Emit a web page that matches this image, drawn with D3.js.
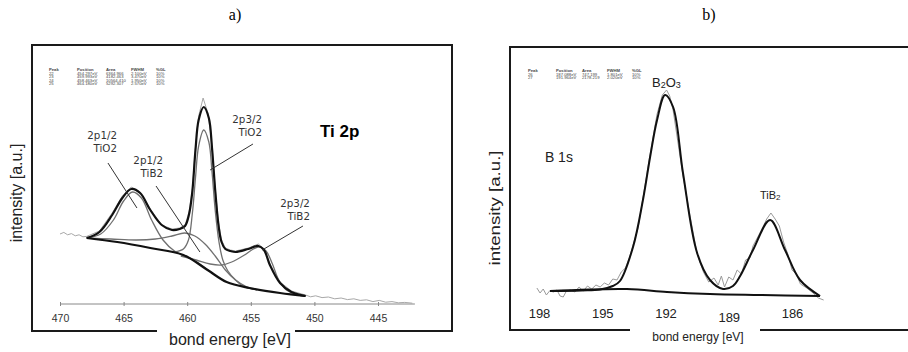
<!DOCTYPE html>
<html>
  <head>
    <meta charset="utf-8">
    <title>XPS Ti 2p / B 1s</title>
    <script src="https://cdn.jsdelivr.net/npm/d3@7"></script>
    <style>
      body { margin: 0; background: #fff; }
      svg { display: block; }
    </style>
  </head>
  <body>
    <svg id="canvas" width="908" height="352"></svg>
    <script>
      // ---- panel a: Ti 2p, [bond energy eV, intensity a.u.] ----
      tiRaw = [[470.0, 35], [469.7, 35.8], [469.4, 34.6], [469.1, 35.2], [468.8, 34.1], [468.5, 34.6], [468.2, 33.6], [467.9, 33.8],
        [466.9, 36.5], [465.9, 45.5], [465.1, 54], [464.4, 58.5], [463.7, 56], [462.9, 47.5], [462.0, 39.5], [461.2, 37.5],
        [460.6, 38], [460.17, 39.5], [459.85, 46], [459.6, 57], [459.35, 78], [459.1, 94], [458.75, 103], [458.35, 95],
        [458.05, 79], [457.8, 58], [457.55, 41], [457.3, 32], [457.0, 28], [456.6, 27], [456.2, 26.5], [455.2, 28],
        [454.4, 30], [453.96, 27.5], [453.5, 20], [452.7, 11], [451.8, 6.5], [450.7, 4.5], [450.3, 3.6], [449.9, 4.1],
        [449.4, 3.2], [448.9, 3.5], [448.4, 2.6], [447.9, 3.0], [447.4, 2.2], [446.9, 2.6], [446.4, 1.8], [445.9, 2.1],
        [445.4, 1.2], [444.9, 1.8], [444.4, 0.9], [443.9, 1.2], [443.4, 0.6], [442.9, 0.8], [442.3, 0.4]];
      tiEnvelope = [[467.9, 33], [466.9, 36], [465.9, 44.5], [465.1, 53], [464.4, 57.5], [463.7, 55.5], [462.9, 47],
        [462.0, 39.5], [461.2, 37], [460.6, 37.5], [460.17, 39], [459.85, 45], [459.6, 56], [459.35, 77], [459.1, 92],
        [458.7, 98.5], [458.3, 93], [458.05, 78], [457.8, 57], [457.55, 40], [457.3, 31], [457.0, 27.5], [456.6, 26.5],
        [456.2, 26], [455.2, 27.5], [454.4, 29], [453.96, 27], [453.5, 19.5], [452.7, 10.5], [451.8, 6], [450.7, 4]];
      tiBackground = [[467.9, 33], [465.5, 31], [462.9, 28], [460.3, 24.5], [458.4, 17], [456.9, 11], [455.1, 8],
        [452.7, 5.5], [450.7, 4]];
      tiPeakTiO2a = [[467.9, 33], [466.8, 35], [465.8, 42], [465.0, 51.5], [464.3, 56], [463.6, 53], [462.8, 42],
        [461.9, 32], [461.0, 26.5], [460.0, 23.5], [459.0, 20], [458.0, 15]];
      tiPeakTiB2a = [[467.9, 33], [466.0, 32.5], [464.0, 32], [462.5, 32.5], [461.2, 34], [460.2, 35.5], [459.4, 34],
        [458.6, 30], [457.8, 24], [457.0, 17], [456.2, 12], [455.3, 8.5], [454.5, 7]];
      tiPeakTiO2b = [[461.0, 26], [460.3, 27.5], [459.9, 32], [459.6, 45], [459.35, 63], [459.1, 79], [458.7, 87],
        [458.3, 81], [458.05, 66], [457.8, 47], [457.5, 31], [457.2, 22], [456.8, 16.5], [456.2, 12], [455.5, 8.5],
        [454.8, 7.5]];
      tiPeakTiB2b = [[460.5, 24], [459.3, 22], [458.2, 20], [457.3, 19.5], [456.5, 21], [455.5, 24.5], [454.8, 27.5],
        [454.3, 28.5], [453.8, 26.5], [453.3, 20], [452.8, 12], [452.2, 7], [451.5, 5], [450.7, 4]];
      tiTicks = [470, 465, 460, 455, 450, 445];
      tiTable = [["Peak", "Position", "Area", "FWHM", "%GL"],
        ["22", "454.297eV", "6364.966", "2.100eV", "10%"],
        ["23", "459.993eV", "4182.463", "3.470eV", "10%"],
        ["24", "458.463eV", "10564.410", "1.950eV", "10%"],
        ["25", "464.180eV", "5292.307", "2.570eV", "10%"]];
      // label: [lines, text anchor E, I, leader from, leader to]
      tiLabels = [
        [["2p1/2", "TiO2"], [465.52, 82.5], [466.23, 70.5], [463.95, 48]],
        [["2p1/2", "TiB2"], [461.9, 70], [462.45, 59], [459.0, 26]],
        [["2p3/2", "TiO2"], [454.12, 90.5], [454.83, 80], [458.2, 67]],
        [["2p3/2", "TiB2"], [450.35, 48.5], [450.9, 39], [454.1, 27]]];

      // ---- panel b: B 1s ----
      bRaw = [[198.1, 4], [197.95, 1.5], [197.8, 3.5], [197.65, 0.5], [197.5, 2.5], [197.3, 2], [197.15, 3], [197.0, 0],
        [196.85, -0.5], [196.7, 2.5], [196.5, 3], [196.3, 2], [196.1, 4.5], [195.9, 2.5], [195.7, 5], [195.5, 3.5],
        [195.3, 5.5], [195.1, 4.5], [194.9, 6.5], [194.7, 5.5], [194.5, 8.5], [194.3, 8], [194.1, 12], [193.9, 14],
        [193.7, 19.5], [193.5, 27], [193.3, 34], [193.07, 49], [192.73, 71], [192.4, 91], [192.15, 100.5], [191.95, 103],
        [191.8, 100], [191.64, 93], [191.17, 60], [190.8, 38], [190.5, 21], [190.2, 12], [189.95, 7], [189.7, 9],
        [189.5, 5.5], [189.35, 10], [189.2, 4.5], [189.0, 9.5], [188.8, 8], [188.6, 13], [188.4, 11], [188.2, 18],
        [188.0, 19], [187.85, 25], [187.6, 30], [187.4, 34], [187.2, 38.5], [187.0, 41.5], [186.8, 38.5], [186.6, 35],
        [186.4, 27], [186.2, 21], [186.0, 13], [185.8, 11], [185.6, 6], [185.3, 4], [185.0, 1.5], [184.75, -1], [184.5, -2]];
      bEnvelope = [[197.48, 2.5], [196.0, 2.8], [195.11, 3.2], [194.5, 5], [194.16, 7.5], [193.54, 24.5], [193.07, 48],
        [192.73, 69.5], [192.4, 88], [192.02, 100.5], [191.64, 94.5], [191.17, 61.5], [190.5, 21.5], [189.89, 8],
        [189.27, 3.5], [188.8, 5], [188.46, 10], [187.85, 23], [187.04, 38], [186.33, 23], [185.62, 8], [184.67, 0]];
      bBackground = [[197.48, 2.5], [193.83, 3.5], [191.93, 2], [189.89, 1], [187.52, 0.5], [184.67, 0]];
      bTicks = [198, 195, 192, 189, 186];
      bTable = [["Peak", "Position", "Area", "FWHM", "%GL"],
        ["26", "187.088eV", "747.199", "1.801eV", "10%"],
        ["27", "191.964eV", "2178.219", "2.020eV", "10%"]];

      svg = d3.select("#canvas");

      // scales
      xa = d3.scaleLinear().domain([470, 445]).range([60, 378]);
      ya = d3.scaleLinear().domain([0, 100]).range([304, 104]);
      xb = d3.scaleLinear().domain([198, 186]).range([539, 792]);
      yb = d3.scaleLinear().domain([0, 100]).range([296, 96]);

      function smooth(x, y) {
        return d3.line()
          .x(function(d) { return x(d[0]); })
          .y(function(d) { return y(d[1]); })
          .curve(d3.curveCatmullRom.alpha(0.5));
      }
      function plain(x, y) {
        return d3.line()
          .x(function(d) { return x(d[0]); })
          .y(function(d) { return y(d[1]); });
      }

      function frame(x0, x1, yt, yb2, gapL, gapR) {
        svg.append("path")
          .attr("d", "M" + gapL + "," + yb2 + "H" + x0 + "V" + yt + "H" + x1 + "V" + yb2 + "H" + gapR)
          .attr("fill", "none")
          .attr("stroke", "#1a1a1a")
          .attr("stroke-width", 2);
      }

      function table(rows, cols, y0) {
        let g = svg.append("g")
          .attr("font-family", "Liberation Sans, Arial, sans-serif")
          .attr("font-size", 4.2)
          .attr("fill", "#444");
        rows.forEach(function(r, i) {
          r.forEach(function(t, j) {
            g.append("text")
              .attr("x", cols[j])
              .attr("y", y0 + i * 3.6)
              .attr("font-weight", i == 0 ? "bold" : "normal")
              .text(t);
          });
        });
      }

      // titles
      svg.append("text").attr("x", 235).attr("y", 20).attr("text-anchor", "middle")
        .attr("font-family", "Liberation Serif, Times New Roman, serif").attr("font-size", 16).text("a)");
      svg.append("text").attr("x", 709).attr("y", 20).attr("text-anchor", "middle")
        .attr("font-family", "Liberation Serif, Times New Roman, serif").attr("font-size", 16).text("b)");

      // ===== panel a =====
      frame(32, 452, 45, 331, 157, 295);
      table(tiTable, [49, 77, 106, 131, 156], 71);

      axisA = svg.append("g")
        .attr("transform", "translate(0,304)")
        .call(d3.axisBottom(xa).tickValues(tiTicks).tickSize(2).tickSizeOuter(0).tickFormat(d3.format("d")));
      axisA.select(".domain").attr("stroke", "#888").attr("d", "M" + xa(470) + ",0H" + xa(442.1));
      axisA.selectAll(".tick line").attr("stroke", "#888").attr("y1", -2).attr("y2", 2);
      axisA.selectAll(".tick text").attr("y", 18).attr("dy", 0)
        .attr("font-family", "Liberation Sans, Arial, sans-serif").attr("font-size", 10.5).attr("fill", "#333");

      svg.append("path").datum(tiRaw).attr("d", plain(xa, ya))
        .attr("fill", "none").attr("stroke", "#a8a8a8").attr("stroke-width", 1);
      [tiPeakTiO2a, tiPeakTiB2a, tiPeakTiO2b, tiPeakTiB2b].forEach(function(p) {
        svg.append("path").datum(p).attr("d", smooth(xa, ya))
          .attr("fill", "none").attr("stroke", "#707070").attr("stroke-width", 1.3);
      });
      svg.append("path").datum(tiBackground).attr("d", smooth(xa, ya))
        .attr("fill", "none").attr("stroke", "#111").attr("stroke-width", 2.2);
      svg.append("path").datum(tiEnvelope).attr("d", smooth(xa, ya))
        .attr("fill", "none").attr("stroke", "#111").attr("stroke-width", 2.2);

      tiLabels.forEach(function(l) {
        svg.append("line")
          .attr("x1", xa(l[2][0])).attr("y1", ya(l[2][1]))
          .attr("x2", xa(l[3][0])).attr("y2", ya(l[3][1]))
          .attr("stroke", "#333").attr("stroke-width", 1);
        let t = svg.append("text")
          .attr("x", xa(l[1][0])).attr("y", ya(l[1][1]))
          .attr("text-anchor", "end")
          .attr("font-family", "DejaVu Sans, sans-serif").attr("font-size", 10.3).attr("fill", "#333");
        l[0].forEach(function(s, i) {
          t.append("tspan").attr("x", xa(l[1][0])).attr("dy", i == 0 ? 0 : 13).text(s);
        });
      });
      svg.append("text").attr("x", xa(449.56)).attr("y", ya(83.5))
        .attr("font-family", "Liberation Sans, Arial, sans-serif").attr("font-size", 17).attr("font-weight", "bold")
        .text("Ti 2p");

      svg.append("text").attr("transform", "translate(22,193) rotate(-90)").attr("text-anchor", "middle")
        .attr("font-family", "Liberation Sans, Arial, sans-serif").attr("font-size", 16).attr("fill", "#222")
        .text("intensity [a.u.]");
      svg.append("text").attr("x", 230).attr("y", 345).attr("text-anchor", "middle")
        .attr("font-family", "Liberation Sans, Arial, sans-serif").attr("font-size", 16).attr("fill", "#222")
        .text("bond energy [eV]");

      // ===== panel b =====
      frame(510, 912, 47, 330, 630, 760);
      table(bTable, [528, 556, 582, 607, 632], 72);

      axisB = svg.append("g")
        .attr("transform", "translate(0,300)")
        .call(d3.axisBottom(xb).tickValues(bTicks).tickSize(0).tickFormat(d3.format("d")));
      axisB.select(".domain").remove();
      axisB.selectAll(".tick text")
        .attr("y", function(d) { return d == 189 ? 22 : 18; }).attr("dy", 0)
        .attr("font-family", "Liberation Sans, Arial, sans-serif").attr("font-size", 13).attr("fill", "#222");

      svg.append("path").datum(bRaw).attr("d", plain(xb, yb))
        .attr("fill", "none").attr("stroke", "#9a9a9a").attr("stroke-width", 1);
      svg.append("path").datum(bBackground).attr("d", smooth(xb, yb))
        .attr("fill", "none").attr("stroke", "#111").attr("stroke-width", 2);
      svg.append("path").datum(bEnvelope).attr("d", smooth(xb, yb))
        .attr("fill", "none").attr("stroke", "#111").attr("stroke-width", 2);

      b2o3 = svg.append("text").attr("x", xb(192.64)).attr("y", yb(104.5))
        .attr("font-family", "Liberation Sans, Arial, sans-serif").attr("font-size", 13).attr("fill", "#222");
      b2o3.append("tspan").text("B");
      b2o3.append("tspan").attr("font-size", 9).attr("dy", 1).text("2");
      b2o3.append("tspan").attr("dy", -1).text("O");
      b2o3.append("tspan").attr("font-size", 9).attr("dy", 1).text("3");
      tib2 = svg.append("text").attr("x", xb(187.52)).attr("y", yb(48.5))
        .attr("font-family", "Liberation Sans, Arial, sans-serif").attr("font-size", 11).attr("fill", "#222");
      tib2.append("tspan").text("TiB");
      tib2.append("tspan").attr("font-size", 8).attr("dy", 1).text("2");
      svg.append("text").attr("x", xb(197.72)).attr("y", yb(67))
        .attr("font-family", "Liberation Sans, Arial, sans-serif").attr("font-size", 14).attr("fill", "#222")
        .text("B 1s");

      svg.append("text").attr("transform", "translate(500,208) rotate(-90)").attr("text-anchor", "middle")
        .attr("font-family", "Liberation Sans, Arial, sans-serif").attr("font-size", 15).attr("fill", "#222")
        .attr("textLength", 115).attr("lengthAdjust", "spacingAndGlyphs")
        .text("intensity [a.u.]");
      svg.append("text").attr("x", 698).attr("y", 341).attr("text-anchor", "middle")
        .attr("font-family", "Liberation Sans, Arial, sans-serif").attr("font-size", 12).attr("fill", "#222")
        .text("bond energy [eV]");
    </script>
  </body>
</html>
